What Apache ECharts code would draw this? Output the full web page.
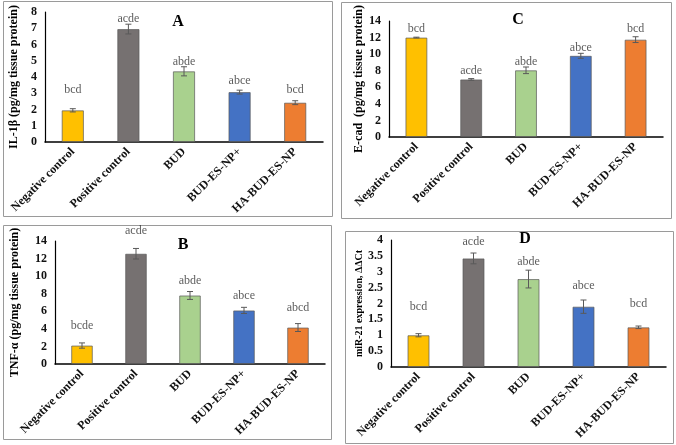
<!DOCTYPE html>
<html>
<head>
<meta charset="utf-8">
<script src="https://cdn.jsdelivr.net/npm/echarts@6/dist/echarts.min.js"></script>
<style>
html,body{margin:0;padding:0;background:#fff;}
#chart{width:676px;height:445px;}
</style>
</head>
<body>
<div id="chart"></div>
<script>
// ---- Data ----
const categories = ['Negative control', 'Positive control', 'BUD', 'BUD-ES-NP+', 'HA-BUD-ES-NP'];
const barColors = ['#FFC000', '#767171', '#A9D18E', '#4472C4', '#ED7D31'];

// Panel A: IL-1β
const il1bValues = [1.95, 6.95, 4.35, 3.07, 2.42];
const il1bErrors = [0.1, 0.3, 0.28, 0.12, 0.12];
const il1bLetters = ['bcd', 'acde', 'abde', 'abce', 'bcd'];
const il1bLetterY = [3.24, 7.6, 4.94, 3.77, 3.24];

// Panel C: E-cad
const ecadValues = [12.0, 6.95, 8.05, 9.8, 11.75];
const ecadErrors = [0.05, 0.1, 0.4, 0.3, 0.35];
const ecadLetters = ['bcd', 'acde', 'abde', 'abce', 'bcd'];
const ecadLetterY = [13.0, 7.96, 9.09, 10.7, 13.0];

// Panel B: TNF-α
const tnfValues = [2.1, 12.55, 7.8, 6.1, 4.15];
const tnfErrors = [0.3, 0.6, 0.45, 0.35, 0.45];
const tnfLetters = ['bcde', 'acde', 'abde', 'abce', 'abcd'];
const tnfLetterY = [4.3, 15.1, 9.5, 7.72, 6.35];

// Panel D: miR-21
const mirValues = [1.0, 3.42, 2.77, 1.9, 1.25];
const mirErrors = [0.05, 0.17, 0.28, 0.21, 0.04];
const mirLetters = ['bcd', 'acde', 'abde', 'abce', 'bcd'];
const mirLetterY = [1.88, 3.95, 3.31, 2.56, 1.98];

const panels = [
  { key: 'A', values: il1bValues, errors: il1bErrors, letters: il1bLetters, letterY: il1bLetterY,
    yName: 'IL-1β (pg/mg tissue protein)', yMax: 8, yInt: 1, nameSize: 12, nameGap: 25,
    grid: { left: 45, top: 12, width: 278, height: 130 }, tag: [178, 22],
    box: [3, 1, 329, 215] },
  { key: 'C', values: ecadValues, errors: ecadErrors, letters: ecadLetters, letterY: ecadLetterY,
    yName: 'E-cad  (pg/mg tissue protein)', yMax: 14, yInt: 2, nameSize: 12, nameGap: 24,
    grid: { left: 389, top: 21, width: 274, height: 116 }, tag: [518, 20],
    box: [341, 2, 330, 216] },
  { key: 'B', values: tnfValues, errors: tnfErrors, letters: tnfLetters, letterY: tnfLetterY,
    yName: 'TNF-α (pg/mg tissue protein)', yMax: 14, yInt: 2, nameSize: 12, nameGap: 34,
    grid: { left: 55, top: 241, width: 270, height: 123 }, tag: [183, 245],
    box: [3, 225, 328, 214] },
  { key: 'D', values: mirValues, errors: mirErrors, letters: mirLetters, letterY: mirLetterY,
    yName: 'miR-21 expression, ΔΔCt', yMax: 4, yInt: 0.5, nameSize: 10, nameGap: 24,
    grid: { left: 391, top: 240, width: 275, height: 127 }, tag: [525, 239],
    box: [345, 231, 328, 212] }
];

const FONT = 'Liberation Serif';
const grids = [], xAxes = [], yAxes = [], series = [], graphics = [];

panels.forEach((p, i) => {
  grids.push(Object.assign({ containLabel: false }, p.grid));
  xAxes.push({
    type: 'category', gridIndex: i, data: categories, boundaryGap: true,
    axisLine: { show: true, lineStyle: { color: '#000', width: 1.5 } },
    axisTick: { show: false },
    axisLabel: { rotate: 45, interval: 0, margin: 8, color: '#111',
      fontFamily: FONT, fontWeight: 'bold', fontSize: 12 }
  });
  yAxes.push({
    type: 'value', gridIndex: i, min: 0, max: p.yMax, interval: p.yInt,
    name: p.yName, nameLocation: 'middle', nameGap: p.nameGap, nameRotate: 90,
    nameTextStyle: { fontFamily: FONT, fontWeight: 'bold', fontSize: p.nameSize, color: '#000' },
    axisLine: { show: true, lineStyle: { color: '#000', width: 1.2 } },
    axisTick: { show: false },
    splitLine: { show: false },
    axisLabel: { margin: 8, color: '#111', fontFamily: FONT, fontWeight: 'bold', fontSize: 12 }
  });
  series.push({
    type: 'bar', xAxisIndex: i, yAxisIndex: i, barWidth: '40%',
    data: p.values.map((v, k) => ({ value: v,
      itemStyle: { color: barColors[k], borderColor: 'rgba(90,90,90,0.7)', borderWidth: 1 } })),
    animation: false
  });
  series.push({
    type: 'custom', xAxisIndex: i, yAxisIndex: i, z: 5, animation: false,
    encode: { x: 0, y: 1 },
    data: p.values.map((v, k) => [k, v, p.errors[k]]),
    renderItem: function (params, api) {
      const idx = api.value(0), v = api.value(1), e = api.value(2);
      const hi = api.coord([idx, v + e]);
      const lo = api.coord([idx, v - e]);
      const w = 3;
      const st = { stroke: '#595959', lineWidth: 1 };
      return { type: 'group', children: [
        { type: 'line', shape: { x1: hi[0], y1: hi[1], x2: lo[0], y2: lo[1] }, style: st },
        { type: 'line', shape: { x1: hi[0] - w, y1: hi[1], x2: hi[0] + w, y2: hi[1] }, style: st },
        { type: 'line', shape: { x1: lo[0] - w, y1: lo[1], x2: lo[0] + w, y2: lo[1] }, style: st }
      ] };
    }
  });
  series.push({
    type: 'scatter', xAxisIndex: i, yAxisIndex: i, symbolSize: 0, clip: false, animation: false,
    silent: true,
    data: p.letterY.map((y, k) => ({ value: [categories[k], y],
      label: { show: true, position: 'inside', formatter: p.letters[k] } })),
    label: { color: '#333', fontFamily: FONT, fontSize: 12 }
  });
  graphics.push({
    type: 'rect', shape: { x: p.box[0] + 0.5, y: p.box[1] + 0.5, width: p.box[2], height: p.box[3] },
    style: { fill: 'none', stroke: '#9a9a9a', lineWidth: 1 }, z: -1
  });
  graphics.push({
    type: 'text', x: p.tag[0], y: p.tag[1],
    style: { text: p.key, fontFamily: FONT, fontWeight: 'bold', fontSize: 16, fill: '#000',
      align: 'center', verticalAlign: 'middle' }
  });
});

const chart = echarts.init(document.getElementById('chart'), null, { renderer: 'canvas' });
chart.setOption({
  backgroundColor: '#fff',
  animation: false,
  grid: grids, xAxis: xAxes, yAxis: yAxes, series: series, graphic: graphics
});
</script>
</body>
</html>
